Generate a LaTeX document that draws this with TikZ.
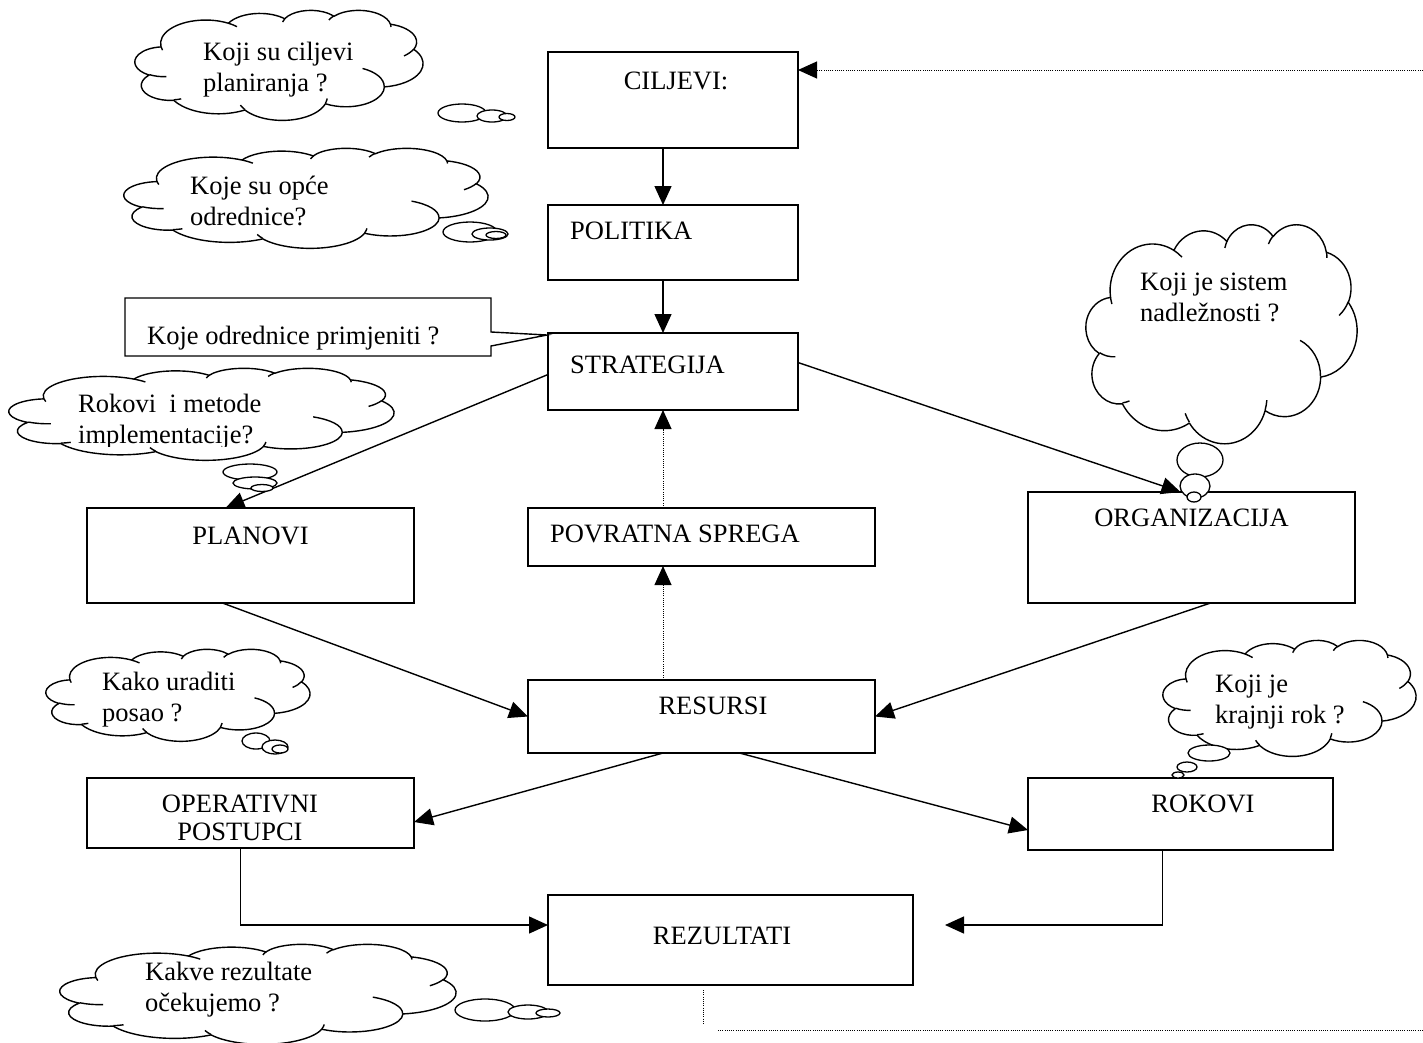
\documentclass[tikz,border=0pt]{standalone}
\usepackage{fontspec}
\setmainfont{Liberation Serif}
\usetikzlibrary{arrows.meta,calc}

% elliptical arc given by radii, start angle and sweep (angles measured to the point)
\newcommand\warc[4]{%
  \pgfextra{%
    \pgfmathsetmacro\wcTs{atan2((#1)*sin(#3),(#2)*cos(#3))}%
    \pgfmathsetmacro\wcTe{atan2((#1)*sin((#3)+(#4)),(#2)*cos((#3)+(#4)))}%
    \pgfmathsetmacro\wcD{\wcTe-\wcTs}%
    \pgfmathsetmacro\wcD{\wcD+360*round(((#4)-\wcD)/360)}%
  }%
  arc[x radius=#1,y radius=#2,start angle=\wcTs,delta angle=\wcD]}

% thought cloud in the box with top-left corner (#1,#2), width #3, height #4
\newcommand\thoughtcloud[4]{%
  \begin{scope}[shift={(#1,#2)},xscale=#3/432,yscale=#4/432]
    \draw[cloudline,fill=white] (39,143.7)
      \warc{67.53}{91.90}{-190.4875}{123.7805}
      \warc{53.33}{72.67}{-144.1024}{89.9452}
      \warc{43.65}{59.45}{-145.8079}{99.7230}
      \warc{48.57}{65.95}{-130.9861}{117.2417}
      \warc{53.33}{72.73}{-78.7089}{109.0269}
      \warc{67.75}{92.20}{-46.2673}{130.2690}
      \warc{57.85}{78.67}{0.6250}{114.0333}
      \warc{67.52}{92.15}{22.4516}{115.1726}
      \warc{77.20}{105.43}{66.2426}{75.7110}
      \warc{43.60}{59.18}{-274.9421}{146.7356}
      \warc{43.45}{59.45}{-246.8285}{152.5189} -- cycle;
    \draw[cloudline]
      (46.93,261.77) \warc{43.45}{59.45}{86.7420}{26.4295}
      (69.28,348.99) \warc{43.60}{59.18}{73.6105}{11.4475}
      (164.78,390.90) \warc{67.52}{92.15}{137.6242}{14.0811}
      (288.27,347.51) \warc{67.52}{92.15}{6.4533}{15.9984}
      (341.29,229.54) \warc{57.85}{78.67}{-70.2924}{70.9174}
      (417.98,153.54) \warc{53.33}{72.73}{30.3180}{27.7515}
      (383.24,54.26) \warc{48.57}{65.95}{-13.7443}{14.8589}
      (290.78,39.52) \warc{48.57}{65.95}{-149.1815}{18.1954}
      (221.41,47.20) \warc{43.65}{59.45}{-163.4943}{17.6864}
      (140.00,51.92) \warc{67.53}{91.90}{-66.7070}{12.3194}
      (41.27,157.89) \warc{67.53}{91.90}{157.6544}{11.8582};
  \end{scope}}

\begin{document}
\begin{tikzpicture}[x=1pt,y=-1pt,
  box/.style={draw,line width=1.6pt,inner sep=0pt,outer sep=0pt,anchor=north west},
  lbl/.style={inner sep=0pt,font=\fontsize{26.5}{31}\selectfont},
  arr/.style={line width=1.4pt,-{Triangle[length=19pt,width=17pt]}},
  fbk/.style={line width=1pt,dash pattern=on 1pt off 1.2pt},
  cloudline/.style={line width=1.4pt,line join=round},
  bub/.style={draw,fill=white,line width=1.3pt}]
\useasboundingbox (0,0) rectangle (1423,1042);

% main boxes
\node[box,minimum width=250pt,minimum height=96pt] (cil) at (548,52) {};
\node[box,minimum width=250pt,minimum height=75pt] (pol) at (548,205) {};
\node[box,minimum width=250pt,minimum height=77pt] (str) at (548,333) {};
\node[box,minimum width=327pt,minimum height=95pt] (pla) at (87,508) {};
\node[box,minimum width=347pt,minimum height=58pt] (pov) at (528,508) {};
\node[box,minimum width=327pt,minimum height=111pt] (org) at (1028,492) {};
\node[box,minimum width=347pt,minimum height=73pt] (res) at (528,680) {};
\node[box,minimum width=327pt,minimum height=70pt] (ope) at (87,778) {};
\node[box,minimum width=305pt,minimum height=72pt] (rok) at (1028,778) {};
\node[box,minimum width=365pt,minimum height=90pt] (rez) at (548,895) {};

% box labels
\node[lbl,anchor=base] (tcil) at (676,89) {CILJEVI:};
\node[lbl,anchor=base west] (tpol) at (570,239) {POLITIKA};
\node[lbl,anchor=base west] (tstr) at (570,373) {STRATEGIJA};
\node[lbl,anchor=base] (tpla) at (pla.north |- 0,544) {PLANOVI};
\node[lbl,anchor=base west] (tpov) at (550,542) {POVRATNA SPREGA};
\node[lbl,anchor=base] (torg) at (org.north |- 0,526) {ORGANIZACIJA};
\node[lbl,anchor=base] (tres) at (713,714) {RESURSI};
\node[lbl,anchor=base] (tope1) at (240,812) {OPERATIVNI};
\node[lbl,anchor=base] (tope2) at (240,840) {POSTUPCI};
\node[lbl,anchor=base] (trok) at (1203,812) {ROKOVI};
\node[lbl,anchor=base] (trez) at (722,944) {REZULTATI};

% callout with pointer to STRATEGIJA
\draw[line width=1.4pt,fill=white] (125,298) -- (491,298) -- (491,332) -- (547,335)
  -- (491,346) -- (491,356) -- (125,356) -- cycle;
\node[lbl,anchor=base west] (tcall) at (147,344) {Koje odrednice primjeniti ?};

% vertical axis of the main chain
\coordinate (ax) at (663,0);

% connectors
\draw[arr] (cil.south -| ax) -- (pol.north -| ax);
\draw[arr] (pol.south -| ax) -- (str.north -| ax);
\draw[arr] ($(str.west)+(0,3)$) -- ($(pla.north)+(-25,0)$);
\draw[arr] ($(str.east)+(0,-9)$) -- ($(org.north)+(-11,0)$);
\draw[arr] ($(pla.south)+(-28,0)$) -- (res.west);
\draw[arr] ($(org.south)+(19,0)$) -- (res.east);
\draw[arr] (res.south -| ax) -- ($(ope.east)+(0,9)$);
\draw[arr] ($(res.south)+(38,0)$) -- ($(rok.west)+(0,16)$);
\draw[arr] ($(ope.south)+(-10,0)$) |- ($(rez.west)+(0,-15)$);
\coordinate (rezin) at ($(rez.east)+(32,-15)$);
\draw[arr] ($(rok.south)+(-18,0)$) |- (rezin);

% feedback (dotted)
\draw[fbk,-{Triangle[length=19pt,width=17pt]}] (res.north -| ax) -- (pov.south -| ax);
\draw[fbk,-{Triangle[length=19pt,width=17pt]}] (pov.north -| ax) -- (str.south -| ax);
\coordinate (fbtop) at (1423,70);
\draw[fbk,-{Triangle[length=19pt,width=17pt]}] (fbtop) -- (fbtop -| cil.east);
\coordinate (fbv) at (703,1025);
\draw[fbk] (rez.south -| fbv) ++(0,5) -- (fbv);
\coordinate (fbh1) at (718,1030);
\coordinate (fbh2) at (1423,1030);
\draw[fbk] (fbh1) -- (fbh2);

% thought clouds with their bubbles
\thoughtcloud{135}{10}{288}{110}
\draw[bub] (462,113) ellipse[x radius=24,y radius=9];
\draw[bub] (492,116) ellipse[x radius=15,y radius=6];
\draw[bub] (507,117) ellipse[x radius=8,y radius=3.5];
\node[lbl,anchor=base west,align=left] (t1) at (203,91) {Koji su ciljevi\\planiranja ?};

\thoughtcloud{124}{148}{364}{100}
\draw[bub] (470,232) ellipse[x radius=27,y radius=10];
\draw[bub] (490,234) ellipse[x radius=18,y radius=6];
\draw[bub] (496,235) ellipse[x radius=10,y radius=3.5];
\node[lbl,anchor=base west,align=left] (t2) at (190,225) {Koje su opće\\odrednice?};

\thoughtcloud{9}{368}{385}{92}
\draw[bub] (250,472) ellipse[x radius=27,y radius=8];
\draw[bub] (255,483) ellipse[x radius=22,y radius=6];
\draw[bub] (262,488) ellipse[x radius=11,y radius=3.5];
% the text frame of this cloud cuts off the descenders of the last line
\begin{scope}
  \clip (0,360) rectangle (400,446);
  \node[lbl,anchor=base west,align=left] (t3) at (78,443) {Rokovi\ \ i metode\\implementacije?};
\end{scope}

\thoughtcloud{1086}{224}{271}{219}
\draw[bub] (1200,460) ellipse[x radius=23,y radius=17];
\draw[bub] (1195,486) ellipse[x radius=15,y radius=12];
\draw[bub] (1194,497) ellipse[x radius=7,y radius=5];
\node[lbl,anchor=base west,align=left] (t4) at (1140,321) {Koji je sistem\\nadležnosti ?};

\thoughtcloud{46}{649}{264}{92}
\draw[bub] (256,741) ellipse[x radius=14,y radius=8];
\draw[bub] (275,747) ellipse[x radius=13,y radius=7];
\draw[bub] (280,749) ellipse[x radius=8,y radius=4];
\node[lbl,anchor=base west,align=left] (t5) at (102,721) {Kako uraditi\\posao ?};

\thoughtcloud{1163}{640}{253}{116}
\draw[bub] (1209,753) ellipse[x radius=21,y radius=8];
\draw[bub] (1187,767) ellipse[x radius=10,y radius=5];
\draw[bub] (1178,775) ellipse[x radius=6,y radius=3];
\node[lbl,anchor=base west,align=left] (t6) at (1215,723) {Koji je\\krajnji rok ?};

\thoughtcloud{60}{944}{396}{100}
\draw[bub] (485,1010) ellipse[x radius=30,y radius=11];
\draw[bub] (528,1012) ellipse[x radius=20,y radius=7];
\draw[bub] (548,1013) ellipse[x radius=12,y radius=4];
\node[lbl,anchor=base west,align=left] (t7) at (145,1011) {Kakve rezultate\\očekujemo ?};
\end{tikzpicture}
\end{document}
